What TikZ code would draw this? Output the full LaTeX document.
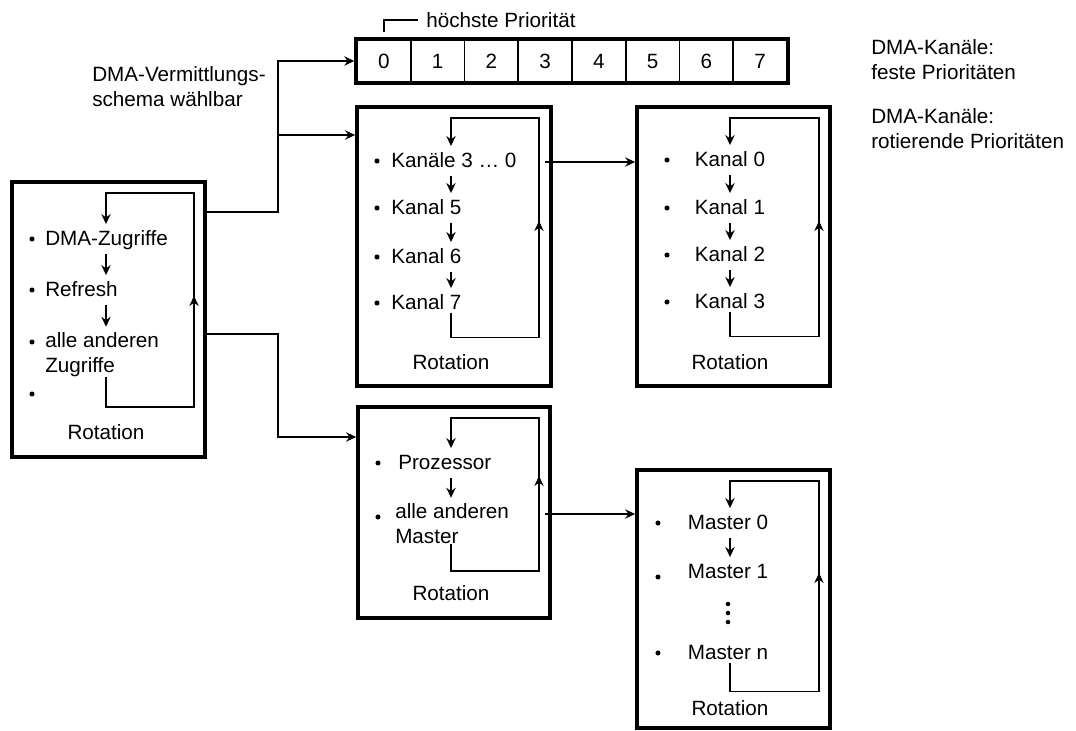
\documentclass[tikz,border=0pt]{standalone}
\usepackage{fontspec}
\setmainfont{Liberation Sans}
\usetikzlibrary{arrows.meta, fit, positioning}
\newcommand{\diafont}{\fontsize{15.5}{18.75}\selectfont}

\begin{document}
\begin{tikzpicture}[x=0.75pt, y=-0.75pt]
        % Define styles
        \tikzset{
            box/.style={draw, line width=2.8pt, inner sep=0pt},
            cell/.style={draw, line width=1.3pt, minimum width=40.3pt, minimum height=31.5pt, inner sep=0pt, font=\diafont},
            tip/.style={-{Stealth[length=7.5pt, width=7pt, inset=2.5pt]}},
            conn/.style={line width=1.3pt, tip},
            loopline/.style={line width=1.3pt},
            steparrow/.style={line width=1.3pt, tip, shorten <=4pt, shorten >=4pt},
            item/.style={font=\diafont, inner sep=0pt, text height=12pt, text depth=2pt},
            item2/.style={font=\diafont, inner sep=0pt, align=left, anchor=west},
            dot/.style={circle, fill, inner sep=0pt, minimum size=3.8pt},
            rotlabel/.style={font=\diafont, inner sep=0pt},
            label/.style={font=\diafont, align=left, anchor=west, inner sep=0pt}
        }
        \useasboundingbox (0,0) rectangle (1076,731);
        % Fixed priorities: bar of channels
        \foreach \i in {0,...,7}
            \node[cell] (c\i) at ({383.9+53.75*\i},61) {\i};
        \node[box, fit=(c0)(c7)] (bar) {};
        \node[label] (hp) at (426,20) {höchste Priorität};
        \draw[loopline] ([yshift=5pt]c0.north) |- ([xshift=-6pt]hp.west);
        % Texts at the side
        \node[label] (sel) at (92,87) {DMA-Vermittlungs-\\schema wählbar};
        \node[label] (fix) at (871,60) {DMA-Kanäle:\\feste Prioritäten};
        \node[label] (rot) at (871,129) {DMA-Kanäle:\\rotierende Prioritäten};
        % Left box (DMA / Refresh / others)
        \node[box, fit={(12,182) (205,457)}] (lbox) {};
        \foreach \y [count=\k] in {239,290,342,394}
            \node[dot] (lb\k) at (32,\y) {};
        \node[item, anchor=west] (l1) at (45,239) {DMA-Zugriffe};
        \node[item, anchor=west] (l2) at (45,290) {Refresh};
        \node[item2] (l3) at (45,354.5) {alle anderen\\Zugriffe};
        \coordinate (lx) at (106,0);
        \draw[steparrow] (l1.south -| lx) -- (l2.north -| lx);
        \draw[steparrow] (l2.south -| lx) -- (l3.north -| lx);
        \draw[loopline, tip, shorten >=4pt] (l3.south -| lx) -- ++(0,30) -| (194,193) -| (l1.north -| lx);
        \draw[loopline, tip] (194,407) -- (194,296);
        \node[rotlabel] (lrot) at (106,432) {Rotation};
        % Rotating channels 3 ... 0, 5, 6, 7
        \node[box, fit={(357,107) (551,386)}] (ktop) {};
        \foreach \y [count=\k] in {161,208,257,303}
            \node[dot] (kb\k) at (377,\y) {};
        \node[item, anchor=west] (k1) at (391,161) {Kanäle 3 … 0};
        \node[item, anchor=west] (k2) at (391,208) {Kanal 5};
        \node[item, anchor=west] (k3) at (391,257) {Kanal 6};
        \node[item, anchor=west] (k4) at (391,303) {Kanal 7};
        \coordinate (kx) at (451,0);
        \foreach \a/\b in {1/2,2/3,3/4}
            \draw[steparrow] (k\a.south -| kx) -- (k\b.north -| kx);
        \draw[loopline, tip, shorten >=4pt] (k4.south -| kx) -- ++(0,25) -| (539,118) -| (k1.north -| kx);
        \draw[loopline, tip] (539,337) -- (539,221);
        \node[rotlabel] (krot) at (451,362) {Rotation};
        % Rotating channels 0 ... 3
        \node[box, fit={(637,107) (830,386)}] (rbox) {};
        \foreach \n/\y in {0/160,1/208,2/255,3/302} {
            \node[dot] (rb\n) at (667,\y) {};
            \node[item] (r\n) at (730,\y) {Kanal \n};
        }
        \foreach \a/\b in {0/1,1/2,2/3}
            \draw[steparrow] (r\a) -- (r\b);
        \draw[loopline, tip, shorten >=4pt] (r3.south) -- ++(0,25) -| (819,118) -| (r0.north);
        \draw[loopline, tip] (819,337) -- (819,221);
        \node[rotlabel] (rrot) at (730,362) {Rotation};
        % Processor / other masters
        \node[box, fit={(358,407) (550,618)}] (pbox) {};
        \node[dot] (pb1) at (378,463) {};
        \node[dot] (pb2) at (378,517) {};
        \node[item, anchor=west] (p1) at (398,463) {Prozessor};
        \node[item2] (p2) at (395,523.5) {alle anderen\\Master};
        \coordinate (px) at (451,0);
        \draw[steparrow] (p1.south -| px) -- (p2.north -| px);
        \draw[loopline, tip, shorten >=4pt] (p2.south -| px) -- ++(0,27) -| (539,418) -| (p1.north -| px);
        \draw[loopline, tip] (539,572) -- (539,476);
        \node[rotlabel] (prot) at (451,593) {Rotation};
        % Rotating masters
        \node[box, fit={(637,470) (830,728)}] (mbox) {};
        \foreach \y [count=\k] in {523,577,653}
            \node[dot] (mb\k) at (658,\y) {};
        \node[item] (m0) at (728,523) {Master 0};
        \node[item] (m1) at (728,572) {Master 1};
        \foreach \y [count=\k] in {604,613,622}
            \node[dot, minimum size=3.4pt] (md\k) at (728,\y) {};
        \node[item] (mn) at (728,653) {Master n};
        \coordinate (mx) at (730,0);
        \draw[steparrow] (m0.south -| mx) -- (m1.north -| mx);
        \draw[loopline, tip, shorten >=4pt] (mn.south -| mx) -- ++(0,29) -| (819,481) -| (m0.north -| mx);
        \draw[loopline, tip] (819,691) -- (819,573);
        \node[rotlabel] (mrot) at (730,708) {Rotation};
        % Connections between the schemes
        \coordinate (split) at (278,212);
        \draw[conn] (lbox.east |- split) -- (split) |- (bar.west);
        \coordinate (split2) at (278,135);
        \draw[conn] (split2) -- (ktop.west |- split2);
        \coordinate (split3) at (278,334);
        \coordinate (pin) at (0,437);
        \draw[conn] (lbox.east |- split3) -- (split3) |- (pbox.west |- pin);
        \coordinate (kout) at (545,162);
        \draw[conn] (kout) -- (rbox.west |- kout);
        \coordinate (pout) at (545,514);
        \draw[conn] (pout) -- (mbox.west |- pout);
\end{tikzpicture}
\end{document}
